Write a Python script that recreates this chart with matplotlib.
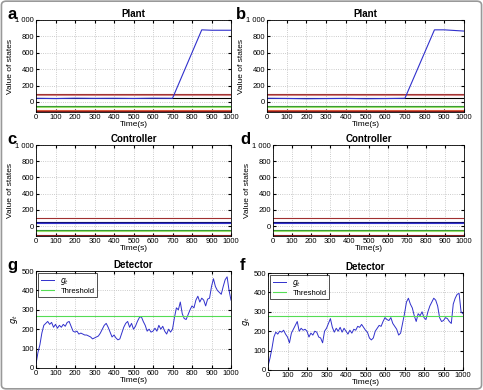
import matplotlib.pyplot as plt
from matplotlib.patches import FancyBboxPatch
import numpy as np

# detector time axis, one sample every 10 s
DetTime = list(range(0, 1001, 10))

# g_t
DetG = [20, 80, 120, 180, 220, 230, 240, 225, 235, 210,
        225, 205, 220, 210, 225, 215, 235, 240, 215, 190,
        185, 190, 175, 180, 175, 170, 170, 165, 160, 150,
        155, 160, 165, 180, 200, 220, 230, 210, 185, 160,
        170, 155, 145, 150, 180, 210, 230, 240, 210, 230,
        200, 215, 240, 260, 265, 240, 220, 190, 200, 185,
        190, 205, 190, 220, 200, 215, 190, 175, 200, 185,
        200, 260, 310, 300, 340, 280, 255, 250, 275, 300,
        320, 310, 350, 370, 340, 360, 350, 320, 355, 360,
        420, 460, 420, 400, 390, 380, 420, 455, 470, 400, 350]

# g_t
DetF = [20, 60, 110, 170, 195, 185, 200, 195, 205, 185,
        170, 140, 190, 210, 230, 250, 200, 215, 205, 210,
        200, 170, 190, 180, 200, 195, 170, 165, 140, 200,
        215, 240, 265, 220, 195, 215, 200, 220, 195, 215,
        200, 185, 205, 190, 210, 205, 225, 220, 235, 220,
        205, 195, 165, 155, 165, 200, 215, 230, 225, 250,
        270, 260, 255, 270, 240, 225, 210, 180, 190, 240,
        290, 350, 370, 340, 320, 280, 250, 290, 280, 300,
        270, 260, 300, 330, 350, 370, 360, 330, 270, 250,
        255, 270, 265, 250, 240, 340, 370, 390, 395, 300, 290]

ThresholdG = 270
ThresholdF = 280

# attacked plant state (blue) - breakpoints
PlantTime = [0, 100, 200, 300, 400, 500, 600, 700, 850, 900, 1000]
PlantA = [45, 42, 46, 44, 45, 43, 46, 45, 880, 875, 875]
PlantB = [45, 43, 40, 42, 44, 40, 42, 45, 880, 880, 865]

# the other (flat) state trajectories, level and colour
StateLevels = [100, 88, 48, -50, -62, -92, -110]
StateColors = ['#a03030', '#d08080', 'k', '#339933', '#99dd66', '#e06040', '#8b1a1a']
CtrlLevels = [100, 48, 40, -52, -62, -110]
CtrlColors = ['#a03030', '#101070', '#3333cc', '#339933', '#99dd66', '#8b1a1a']

plt.rcParams['font.family'] = ['Liberation Sans', 'DejaVu Sans']
Blue = '#3030cc'

Fig = plt.figure(figsize=(4.83, 3.9), dpi=100)
Fig.patches.append(FancyBboxPatch((0.003, 0.003), 0.994, 0.994, boxstyle="round,pad=0,rounding_size=0.01",
                                  transform=Fig.transFigure, facecolor='none', edgecolor='#999999', linewidth=1.2))

def Px(l, t, r, b):
    return [l/483, 1 - b/390, (r-l)/483, (b-t)/390]

def Style(Ax, Title, YLim, YTicks, YLabel):
    Ax.set_xlim(0, 1000)
    Ax.set_ylim(*YLim)
    Ax.set_xticks(range(0, 1001, 100))
    Ax.set_yticks(YTicks)
    Ax.tick_params(direction='in', labelsize=5.5, length=2, pad=1.5, top=True, right=True)
    Ax.grid(True, linestyle=':', color='#bbbbbb', linewidth=0.6)
    Ax.set_title(Title, fontsize=7, fontweight='bold', pad=2)
    Ax.set_xlabel('Time(s)', fontsize=6, labelpad=0)
    Ax.set_ylabel(YLabel, fontsize=6, labelpad=1)
    for S in Ax.spines.values():
        S.set_linewidth(0.6)

StateTicks = [0, 200, 400, 600, 800, 1000]
StateLabels = ['0', '200', '400', '600', '800', '1 000']

Panels = {}
Panels['a'] = Fig.add_axes(Px(36, 20, 231, 112))
Panels['b'] = Fig.add_axes(Px(267, 20, 464, 112))
Panels['c'] = Fig.add_axes(Px(36, 145, 231, 236))
Panels['d'] = Fig.add_axes(Px(273, 145, 464, 236))
Panels['g'] = Fig.add_axes(Px(36, 271, 231, 368))
Panels['f'] = Fig.add_axes(Px(268, 273, 463, 370))

for Key, Blues in (('a', PlantA), ('b', PlantB)):
    Ax = Panels[Key]
    for Level, Col in zip(StateLevels, StateColors):
        Ax.plot([0, 1000], [Level, Level], color=Col, linewidth=0.8)
    Ax.plot(PlantTime, Blues, color=Blue, linewidth=0.8)
    Style(Ax, 'Plant', (-122, 1000), StateTicks, 'Value of states')
    Ax.set_yticklabels(StateLabels)

for Key in ('c', 'd'):
    Ax = Panels[Key]
    for Level, Col in zip(CtrlLevels, CtrlColors):
        Ax.plot([0, 1000], [Level, Level], color=Col, linewidth=0.8)
    Style(Ax, 'Controller', (-122, 1000), StateTicks, 'Value of states')
    Ax.set_yticklabels(StateLabels)

for Key, Values, Thr in (('g', DetG, ThresholdG), ('f', DetF, ThresholdF)):
    Ax = Panels[Key]
    Ax.plot(DetTime, Values, color=Blue, linewidth=0.7, label='$g_t$')
    Ax.axhline(Thr, color='#55dd55', linewidth=0.8, label='Threshold')
    Style(Ax, 'Detector', (0, 500), [0, 100, 200, 300, 400, 500], '$g_t$')
    Leg = Ax.legend(loc='upper left', fontsize=5.5, handlelength=1.8, borderpad=0.3,
                    labelspacing=0.1, fancybox=False, borderaxespad=0.3)
    Leg.get_frame().set_edgecolor('k')
    Leg.get_frame().set_linewidth(0.6)

# panel letters
for Letter, X, Y in (('a', 7, 19), ('b', 236, 19), ('c', 7, 144), ('d', 240, 144), ('g', 7, 270), ('f', 240, 270)):
    Fig.text(X/483, 1 - Y/390, Letter, fontsize=12, fontweight='bold', va='baseline')

Fig.savefig('out.png', dpi=100)
